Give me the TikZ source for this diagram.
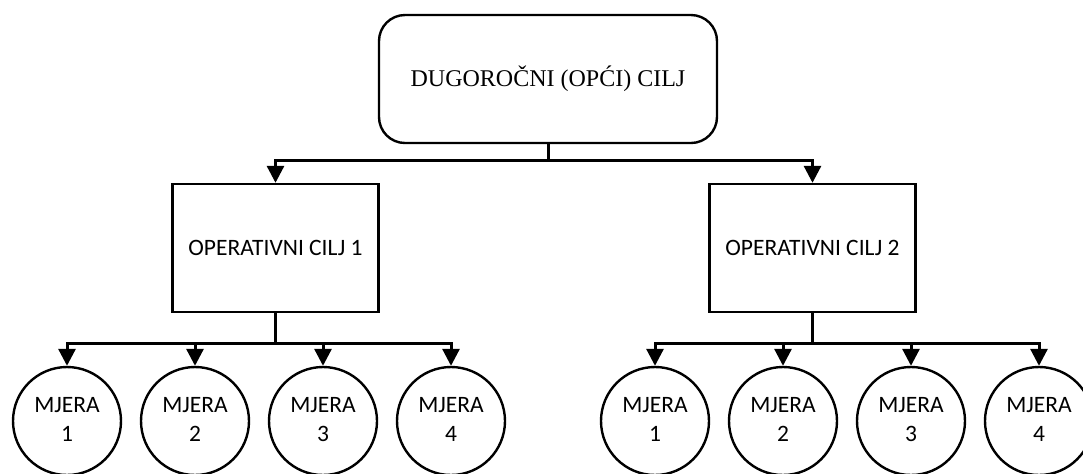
\documentclass[tikz,border=0pt]{standalone}
\usepackage{fontspec}
\setmainfont{Liberation Serif}
\newfontfamily\carlito{Carlito}
\usetikzlibrary{arrows.meta,positioning}

\begin{document}
\begin{tikzpicture}[x=0.5pt, y=-0.5pt,
    goalbox/.style={draw, line width=1.2pt, rounded corners=13pt, minimum width=169pt, minimum height=64pt, font=\fontsize{12}{14}\selectfont},
    opbox/.style={draw, line width=1.2pt, minimum width=103pt, minimum height=64pt, font=\carlito\fontsize{11.75}{14.5}\selectfont},
    measure/.style={draw, circle, line width=1.2pt, minimum size=54pt, inner sep=0pt, align=center, font=\carlito\fontsize{11.75}{14.5}\selectfont},
    link/.style={line width=1.5pt},
    arrow/.style={link, -{Triangle[length=8.5pt,width=8.5pt]}}]
    \clip (0,0) rectangle (1083,473);

    % Goal and operative goals
    \node[goalbox] (goal) at (548,79) {DUGOROČNI (OPĆI) CILJ};
    \node[opbox] (op1) at (275.5,248) {OPERATIVNI CILJ 1};
    \node[opbox] (op2) at (812.5,248) {OPERATIVNI CILJ 2};

    % Measures
    \foreach \i in {1,...,4} {
        \node[measure] (m1\i) at ({67+(\i-1)*128},421) {\strut MJERA\\\strut\i};
        \node[measure] (m2\i) at ({655+(\i-1)*128},421) {\strut MJERA\\\strut\i};
    }

    % Connectors
    \coordinate (gbus) at (548,160);
    \draw[link] (goal.south) -- (gbus);
    \draw[arrow] (gbus) -| (op1.north);
    \draw[arrow] (gbus) -| (op2.north);

    \coordinate (bus1) at (275.5,343);
    \coordinate (bus2) at (812.5,343);
    \draw[link] (op1.south) -- (bus1);
    \draw[link] (op2.south) -- (bus2);
    \foreach \i in {1,...,4} {
        \draw[arrow] (bus1) -| (m1\i.north);
        \draw[arrow] (bus2) -| (m2\i.north);
    }
\end{tikzpicture}
\end{document}
